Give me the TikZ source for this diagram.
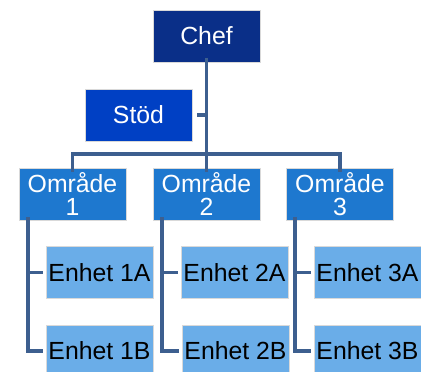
\documentclass[tikz,border=0pt]{standalone}
\usepackage{fontspec}
\setmainfont{Liberation Sans}
\definecolor{chefc}{HTML}{0A2F88}
\definecolor{stodc}{HTML}{0040C4}
\definecolor{omrc}{HTML}{1E78CF}
\definecolor{enhc}{HTML}{6AADE8}
\definecolor{linec}{HTML}{3D5F8F}
\begin{document}
\begin{tikzpicture}[x=1pt,y=-1pt,
  box/.style={draw=white!85!black,line width=0.6pt,minimum width=107pt,minimum height=52pt,inner sep=0pt,align=center,font=\fontsize{24.8}{23}\selectfont},
  topbox/.style={box,fill=chefc,text=white},
  stodbox/.style={box,fill=stodc,text=white},
  omrbox/.style={box,fill=omrc,text=white},
  enhbox/.style={box,fill=enhc,text=black},
  conn/.style={draw=linec,line width=3.6pt}]
\useasboundingbox[fill=white] (0,0) rectangle (421,372);
\node[topbox] (chef) at (206.5,36) {Chef};
\node[stodbox] (stod) at (138.5,115) {Stöd};
\node[omrbox] (o1) at (72.5,194) {Område\\1};
\node[omrbox] (o2) at (206.5,194) {Område\\2};
\node[omrbox] (o3) at (340,194) {Område\\3};
\node[enhbox] (e1a) at (99.5,272.5) {Enhet 1A};
\node[enhbox] (e1b) at (99.5,351) {Enhet 1B};
\node[enhbox] (e2a) at (234.5,272.5) {Enhet 2A};
\node[enhbox] (e2b) at (235.5,351) {Enhet 2B};
\node[enhbox] (e3a) at (367.5,272.5) {Enhet 3A};
\node[enhbox] (e3b) at (367.5,351) {Enhet 3B};
\coordinate (bar) at (0,154);
\draw[conn] ([yshift=4]chef.south) -- ([yshift=-4]o2.north);
\draw[conn] ([xshift=5]stod.east) -- (stod.east -| chef.south);
\draw[conn] ([yshift=-4]o1.north) -- (o1.north |- bar) -- (o3.north |- bar) -- ([yshift=-4]o3.north);
\foreach \i in {1,2,3}{
  \draw[conn] ([xshift=9,yshift=3]o\i.south west) -- ([xshift=9]o\i.south west |- e\i b.west) -- ([xshift=-3]e\i b.west);
  \draw[conn] ([xshift=9]o\i.south west |- e\i a.west) -- ([xshift=-3]e\i a.west);
}
\end{tikzpicture}
\end{document}
